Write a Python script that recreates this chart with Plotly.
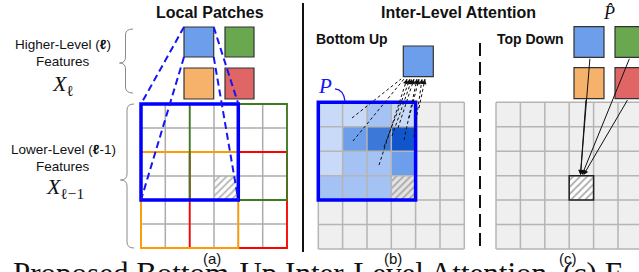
import plotly.graph_objects as go

W, H = 639, 272
SANS = "Liberation Sans, Arial, sans-serif"
SERIF = "Liberation Serif, Times New Roman, serif"

# ---------------- data ----------------
# panel (a) lower-level grid
a_grid_x = [141.0, 165.3, 189.7, 214.0, 238.3, 262.7, 287.0]
a_grid_y = [104.0, 128.0, 152.0, 176.0, 200.0, 224.0, 248.0]
# panel (b) / (c) grids
b_grid_x = [318.3, 342.6, 367.0, 391.3, 415.6, 440.0, 464.3]
bc_grid_y = [102.3, 126.75, 151.2, 175.65, 200.1, 224.55, 249.0]
c_grid_x = [496.0, 520.4, 544.8, 569.2, 593.6, 618.0, 642.4]

# local patch boxes in (a): (col0,row0,col1,row1,color,width)
patch_cols = [(2, 2, 6, 6, "#FF0000", 1.8), (0, 2, 4, 6, "#FF9900", 1.8),
              (2, 0, 6, 4, "#3E7A22", 1.8), (0, 0, 4, 4, "#0000FF", 3.5)]

# higher-level feature squares
feat_colors = ["#6D9EEB", "#6AA84F", "#F6B26B", "#E06666"]
a_squares = [(184, 27, 213.7, 57), (225, 27, 254, 57), (184, 68, 213.7, 99), (225, 68, 254, 99)]
c_squares = [(574, 26.7, 604, 57.3), (615, 26.7, 645, 57.3), (574, 67.7, 604, 98.7), (615, 67.7, 645, 98.7)]
b_square = (403.3, 46, 433.3, 76.7)

# bottom-up attention weights (colors) in the 4x4 patch of (b)
bu_colors = [
    ["#C9DAF8", "#C9DAF8", "#A4C2F4", "#C9DAF8"],
    ["#C9DAF8", "#6D9EEB", "#3C78D8", "#1155CC"],
    ["#C9DAF8", "#A4C2F4", "#A4C2F4", "#6D9EEB"],
    ["#A4C2F4", "#A4C2F4", "#A4C2F4", None],
]

# dashed attention arrows in (b): start (x,y) -> end (x,y)
bu_start_x = [352, 353, 379, 384, 392, 398, 404, 409, 414, 419]
bu_start_y = [118, 141, 165, 147, 136, 128, 140, 118, 137, 108]
bu_end_x = [401, 404, 407, 410, 412, 414, 417, 419, 422, 425]
bu_end_y = [79] * 10

# top-down arrows in (c)
td_start_x = [590, 630, 586, 628.3]
td_start_y = [57.3, 57.3, 98.7, 98.7]
td_end_x = [580.5, 582, 580.5, 583.5]
td_end_y = [175] * 4

shapes = []
annotations = []
traces = []


def rect(x0, y0, x1, y1, color="#333", width=1.0, fill=None, layer="above", dash=None):
    d = dict(type="rect", x0=x0, y0=y0, x1=x1, y1=y1, xref="x", yref="y", layer=layer,
             line=dict(color=color, width=width))
    if dash:
        d["line"]["dash"] = dash
    if fill:
        d["fillcolor"] = fill
    if width == 0:
        d["line"] = dict(width=0)
    shapes.append(d)


def line(x0, y0, x1, y1, color, width, dash=None, layer="above"):
    d = dict(type="line", x0=x0, y0=y0, x1=x1, y1=y1, xref="x", yref="y", layer=layer,
             line=dict(color=color, width=width))
    if dash:
        d["line"]["dash"] = dash
    shapes.append(d)


def text(x, y, t, size, bold=False, family=SANS, color="#111", xanchor="center", yanchor="middle"):
    if bold:
        t = "<b>" + t + "</b>"
    annotations.append(dict(x=x, y=y, xref="x", yref="y", text=t, showarrow=False,
                            xanchor=xanchor, yanchor=yanchor,
                            font=dict(size=size, family=family, color=color)))


def hatch(x0, y0, x1, y1, bg, fg):
    traces.append(go.Scatter(x=[x0, x1, x1, x0, x0], y=[y0, y0, y1, y1, y0], mode="lines",
                             fill="toself", fillcolor=bg, line=dict(width=0),
                             fillpattern=dict(shape="/", fgcolor=fg, bgcolor=bg, size=5, solidity=0.35),
                             hoverinfo="skip", showlegend=False))


def brace(xr, xs, xt, top, bot, mid, r=6):
    p = (f"M {xr},{top} Q {xs},{top} {xs},{top + r} L {xs},{mid - r} "
         f"Q {xs},{mid} {xt},{mid} Q {xs},{mid} {xs},{mid + r} L {xs},{bot - r} "
         f"Q {xs},{bot} {xr},{bot}")
    shapes.append(dict(type="path", path=p, xref="x", yref="y", line=dict(color="#8a8a8a", width=1)))


def arrowhead(x, y, fromx, fromy, color, size=1.0, width=1.0):
    dx, dy = x - fromx, y - fromy
    n = (dx * dx + dy * dy) ** 0.5
    ax, ay = x - 3 * dx / n, y - 3 * dy / n
    annotations.append(dict(x=x, y=y, ax=ax, ay=ay, xref="x", yref="y", axref="x", ayref="y",
                            showarrow=True, arrowhead=2, arrowsize=size, arrowwidth=width,
                            arrowcolor=color, text=""))


# ---------------- panel (a) ----------------
hatch(a_grid_x[3], a_grid_y[3], a_grid_x[4], a_grid_y[4], "white", "#6f6f6f")
for gx in a_grid_x:
    line(gx, a_grid_y[0], gx, a_grid_y[-1], "#ABABAB", 1.5)
for gy in a_grid_y:
    line(a_grid_x[0], gy, a_grid_x[-1], gy, "#ABABAB", 1.5)
for c0, r0, c1, r1, col, w in patch_cols:
    rect(a_grid_x[c0], a_grid_y[r0], a_grid_x[c1], a_grid_y[r1], col, w)
for (x0, y0, x1, y1), col in zip(a_squares, feat_colors):
    rect(x0, y0, x1, y1, "#333333", 1.2, fill=col)
bs = a_squares[0]
for sx, sy, ex, ey in [(bs[0], bs[1], a_grid_x[0], a_grid_y[0]), (bs[0], bs[3], a_grid_x[0], a_grid_y[4]),
                       (bs[2], bs[1], a_grid_x[4], a_grid_y[0]), (bs[2], bs[3], a_grid_x[4], a_grid_y[4])]:
    line(sx, sy, ex, ey, "#1515F5", 2, dash="7px,4px")

brace(133, 125.5, 119.5, 29, 93, 63)
brace(134, 127, 120.5, 104, 248, 180)

text(210, 12, "Local Patches", 16, bold=True)
text(63, 44, "Higher-Level (<b>ℓ</b>)", 13.5)
text(63, 61.5, "Features", 13.5)
text(63, 85, "<i>X</i><sub>ℓ</sub>", 22, family=SERIF)
text(63, 149, "Lower-Level (<b>ℓ</b>-1)", 13.5)
text(63, 166, "Features", 13.5)
text(65, 188, "<i>X</i><sub>ℓ−1</sub>", 22, family=SERIF)
text(212, 258, "(a)", 15)

# separator
line(303, 3, 303, 252, "#111111", 2)

# ---------------- panel (b) ----------------
text(458.5, 12, "Inter-Level Attention", 16, bold=True)
text(351.5, 38.5, "Bottom Up", 14, bold=True)
for i in range(6):
    for j in range(6):
        col = "#EFEFEF"
        if i < 4 and j < 4:
            col = bu_colors[i][j]
            if col is None:
                continue
        rect(b_grid_x[j], bc_grid_y[i], b_grid_x[j + 1], bc_grid_y[i + 1], width=0, fill=col, layer="below")
hatch(b_grid_x[3], bc_grid_y[3], b_grid_x[4], bc_grid_y[4], "#E4E4E4", "#6f6f6f")
for gx in b_grid_x:
    line(gx, bc_grid_y[0], gx, bc_grid_y[-1], "#B5B5B5", 1.5)
for gy in bc_grid_y:
    line(b_grid_x[0], gy, b_grid_x[-1], gy, "#B5B5B5", 1.5)
rect(b_grid_x[0], bc_grid_y[0], b_grid_x[4], bc_grid_y[4], "#0000FF", 3.5)
rect(*b_square, "#333333", 1.2, fill=feat_colors[0])
for sx, sy, ex, ey in zip(bu_start_x, bu_start_y, bu_end_x, bu_end_y):
    line(sx, sy, ex, ey, "#111111", 1, dash="3px,2.5px")
    arrowhead(ex, ey, sx, sy, "#111111", size=1.0, width=1)

# P label with curved arrow
text(325, 86, "<i>P</i>", 21, family=SERIF, color="#1515F5")
shapes.append(dict(type="path", path="M 345,101 Q 343.5,89.5 335,88.8", xref="x", yref="y",
                   line=dict(color="#1515F5", width=1.2)))
arrowhead(333.5, 88.6, 337, 88.9, "#1515F5", size=1.0, width=1.2)

# dashed separator
line(480, 43, 480, 249, "#111111", 2, dash="13px,6px")

# ---------------- panel (c) ----------------
text(530.5, 38.5, "Top Down", 14, bold=True)
text(609, 13, "<i>P̂</i>", 18, family=SERIF)
for i in range(6):
    for j in range(6):
        if i == 3 and j == 3:
            continue
        rect(c_grid_x[j], bc_grid_y[i], c_grid_x[j + 1], bc_grid_y[i + 1], width=0, fill="#EFEFEF", layer="below")
hatch(c_grid_x[3], bc_grid_y[3], c_grid_x[4], bc_grid_y[4], "white", "#5a5a5a")
for gx in c_grid_x:
    line(gx, bc_grid_y[0], gx, bc_grid_y[-1], "#B5B5B5", 1.5)
for gy in bc_grid_y:
    line(c_grid_x[0], gy, c_grid_x[-1], gy, "#B5B5B5", 1.5)
rect(c_grid_x[3], bc_grid_y[3], c_grid_x[4], bc_grid_y[4], "#222222", 1.5)
for (x0, y0, x1, y1), col in zip(c_squares, feat_colors):
    rect(x0, y0, x1, y1, "#333333", 1.2, fill=col)
for sx, sy, ex, ey in zip(td_start_x, td_start_y, td_end_x, td_end_y):
    annotations.append(dict(x=ex, y=ey, ax=sx, ay=sy, xref="x", yref="y", axref="x", ayref="y",
                            showarrow=True, arrowhead=2, arrowsize=1, arrowwidth=1,
                            arrowcolor="#111111", text=""))

text(393, 258, "(b)", 15)
text(567.5, 258, "(c)", 15)

# caption (cut off at bottom)
text(11, 254, "Proposed Bottom-Up Inter-Level Attention. (c) F", 31, family=SERIF,
     xanchor="left", yanchor="top")

fig = go.Figure(traces)
fig.update_layout(
    width=W, height=H, margin=dict(l=0, r=0, t=0, b=0),
    paper_bgcolor="white", plot_bgcolor="white",
    xaxis=dict(range=[0, W], visible=False, fixedrange=True),
    yaxis=dict(range=[H, 0], visible=False, fixedrange=True),
    shapes=shapes, annotations=annotations, showlegend=False,
)
fig.write_html("out.html", config={"displayModeBar": False},
               post_script="document.body.style.margin='0px';document.body.style.overflow='hidden';")
